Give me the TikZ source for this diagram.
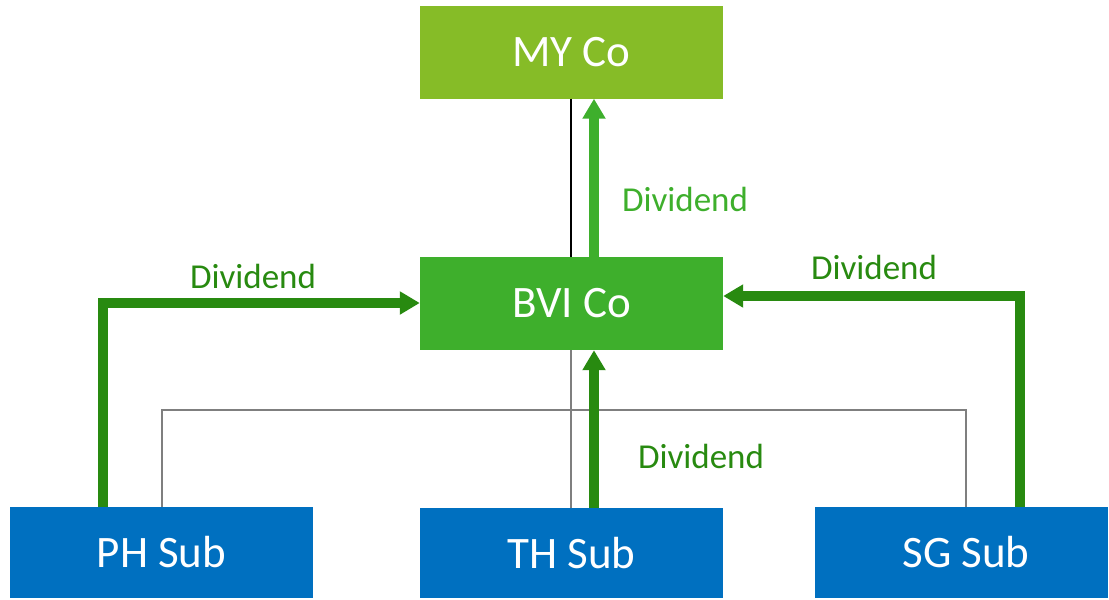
\documentclass[tikz,border=0pt]{standalone}
\usepackage{fontspec}
\setmainfont{Carlito}
\usetikzlibrary{arrows.meta}
\definecolor{mygreen}{HTML}{86BC27}
\definecolor{bvigreen}{HTML}{3EAF2C}
\definecolor{subblue}{HTML}{0070C0}
\definecolor{darkgreen}{HTML}{288A10}
\definecolor{treegray}{HTML}{7F7F7F}
\begin{document}
\begin{tikzpicture}[x=1pt,y=-1pt,
  box/.style={minimum width=303pt,minimum height=93pt,inner sep=0pt,text=white,font=\fontsize{45}{50}\selectfont},
  divlabel/.style={font=\fontsize{35}{40}\selectfont,inner sep=0pt},
  flow/.style={line width=10pt,-{Triangle[length=20pt,width=22pt]}}]
\useasboundingbox (0,0) rectangle (1109,600);
\node[box,fill=mygreen] (my) at (571.5,52) {MY Co};
\node[box,fill=bvigreen] (bvi) at (571.5,303.5) {BVI Co};
\node[box,fill=subblue,minimum height=91pt] (ph) at (161.5,552.5) {PH Sub};
\node[box,fill=subblue,minimum height=90pt] (th) at (571.5,553) {TH Sub};
\node[box,fill=subblue,minimum width=293pt,minimum height=91pt] (sg) at (961.5,552.5) {\hspace*{9pt}SG Sub};
% tree lines
\draw[black,line width=1.5pt] (my.south -| 571,0) -- (bvi.north -| 571,0);
\coordinate (jt) at (571,410);
\coordinate (jl) at (162,410);
\coordinate (jr) at (966,410);
\draw[treegray,line width=1.5pt] (bvi.south -| jt) -- (th.north -| jt);
\draw[treegray,line width=1.5pt] (ph.north -| jl) -- (jl) -- (jr) -- (sg.north -| jr);
% dividend flows
\coordinate (phc) at (103,303);
\coordinate (sgc) at (1020,296);
\draw[flow,darkgreen] (ph.north -| phc) -- (phc) -- (bvi.west |- phc);
\draw[flow,darkgreen] (sg.north -| sgc) -- (sgc) -- (bvi.east |- sgc);
\draw[flow,darkgreen] (th.north -| 594,0) -- (bvi.south -| 594,0);
\draw[flow,bvigreen] (bvi.north -| 594,0) -- (my.south -| 594,0);
% labels
\node[divlabel,text=darkgreen] (l1) at (253,276) {Dividend};
\node[divlabel,text=bvigreen] (l2) at (685,199) {Dividend};
\node[divlabel,text=darkgreen] (l3) at (874,267) {Dividend};
\node[divlabel,text=darkgreen] (l4) at (701,456) {Dividend};
\end{tikzpicture}
\end{document}
